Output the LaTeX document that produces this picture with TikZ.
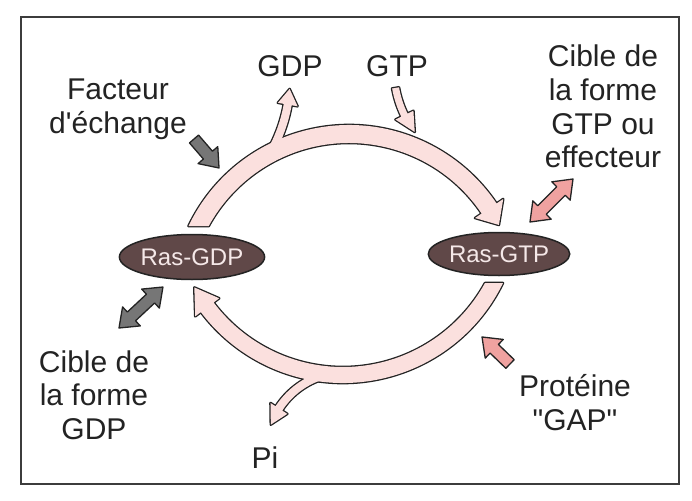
\documentclass[tikz,border=0pt]{standalone}
\usepackage{fontspec}
\setmainfont{Liberation Sans}[Ligatures=TeXOff]
\usetikzlibrary{shapes.geometric}
\definecolor{bandpink}{RGB}{251,224,222}
\definecolor{salmon}{RGB}{240,162,160}
\definecolor{arrowgray}{RGB}{118,118,118}
\definecolor{rasbrown}{RGB}{96,72,72}
\definecolor{inkc}{RGB}{35,35,35}
\definecolor{framec}{RGB}{60,60,60}
\definecolor{rastext}{RGB}{245,232,232}
% curved band arrow: cx cy R halfwidth headhalfwidth startOuter startInner shaftEnd tip
\newcommand\bandarrow[9]{%
 \path[curstyle, shift={(#1,#2)}] (#7:#3-#4) -- (#6:#3+#4)
   arc[start angle=#6, end angle=#8, radius=#3+#4] -- (#8:#3+#5) -- (#9:#3)
   -- (#8:#3-#5) -- (#8:#3-#4) arc[start angle=#8, end angle=#7, radius=#3-#4] -- cycle;}
% straight single block arrow: style, tail x, tail y, screen angle, length
\newcommand\blockarrow[5]{%
 \path[#1, shift={(#2,#3)}, rotate={0-(#4)}] (0,6) -- ({#5-17},6) -- ({#5-17},13)
   -- (#5,0) -- ({#5-17},-13) -- ({#5-17},-6) -- (0,-6) -- cycle;}
% straight double block arrow
\newcommand\dblarrow[5]{%
 \path[#1, shift={(#2,#3)}, rotate={0-(#4)}] (0,0) -- (17,13) -- (17,6) -- ({#5-17},6)
   -- ({#5-17},13) -- (#5,0) -- ({#5-17},-13) -- ({#5-17},-6) -- (17,-6) -- (17,-13) -- cycle;}
\begin{document}
\begin{tikzpicture}[x=1pt,y=-1pt,
  lbl/.style={font=\fontsize{30}{33.5}\selectfont, align=center, text=inkc, inner sep=0pt, anchor=base},
  rasnode/.style={ellipse, fill=rasbrown, draw=inkc, line width=1.5, inner sep=0pt,
     text=rastext, font=\fontsize{24}{28}\selectfont},
  outl/.style={draw=inkc, line width=2.6, line join=round},
  solid arrow/.style={draw=inkc, line width=1.3, line join=round}]
\useasboundingbox (0,0) rectangle (692,500);
\fill[white] (0,0) rectangle (692,500);
\draw[line width=2.2, draw=framec] (21,17) rectangle (679,484);

% outlines of the cycle bands and branches
\tikzset{curstyle/.style={outl}}
\bandarrow{349}{303}{169}{9}{17}{-154.4}{-151.3}{-34}{-27.5}
\bandarrow{140}{78.5}{150}{4}{10}{30}{30}{10}{4}
\bandarrow{343}{205}{170}{8}{15}{26.0}{28.8}{143}{151}
\bandarrow{346}{452}{80}{4}{10}{250}{250}{213}{200}
\bandarrow{497}{70}{103}{3.5}{10}{170}{170}{154}{143}
% fills
\tikzset{curstyle/.style={fill=bandpink}}
\bandarrow{349}{303}{169}{9}{17}{-154.4}{-151.3}{-34}{-27.5}
\bandarrow{140}{78.5}{150}{4}{10}{30}{30}{10}{4}
\bandarrow{343}{205}{170}{8}{15}{26.0}{28.8}{143}{151}
\bandarrow{346}{452}{80}{4}{10}{250}{250}{213}{200}
\bandarrow{497}{70}{103}{3.5}{10}{170}{170}{154}{143}

% nodes
\node[rasnode, minimum width=134, minimum height=45] (rasgdp) at (192,257) {Ras-GDP};
\node[rasnode, minimum width=136, minimum height=43] (rasgtp) at (499,254) {Ras-GTP};

% straight block arrows
\blockarrow{fill=arrowgray, solid arrow}{194}{139}{49.2}{38.3}
\blockarrow{fill=salmon, solid arrow}{510}{364}{-136}{38.9}
\dblarrow{fill=arrowgray, solid arrow}{119}{328}{-43}{60.1}
\dblarrow{fill=salmon, solid arrow}{530}{222}{-45}{60.8}

% labels (anchor = baseline of the last line)
\node[lbl] (facteur) at (118,133) {Facteur\\d'échange};
\node[lbl] (gdplab) at (290,77) {GDP};
\node[lbl] (gtplab) at (397,77) {GTP};
\node[lbl] (ciblegtp) at (603,167.5) {Cible de\\la forme\\GTP ou\\effecteur};
\node[lbl] (ciblegdp) at (94,439) {Cible de\\la forme\\GDP};
\node[lbl] (gap) at (575,430) {Protéine\\"GAP"};
\node[lbl] (pi) at (265,468) {Pi};
\end{tikzpicture}
\end{document}
